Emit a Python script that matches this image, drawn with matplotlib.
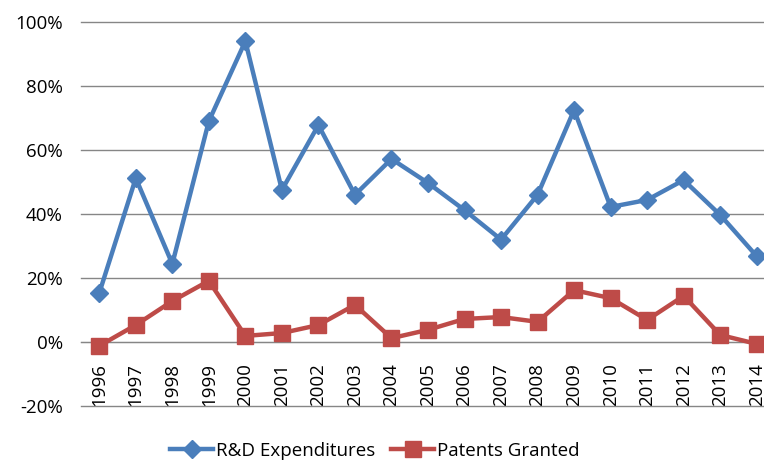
import matplotlib.pyplot as plt
from matplotlib.ticker import FuncFormatter

years = [str(y) for y in range(1996, 2015)]
rd_expenditures = [15.3, 51.2, 24.4, 69.0, 94.0, 47.5, 67.8, 46.0, 57.2, 49.7,
                   41.2, 32.0, 46.0, 72.5, 42.2, 44.4, 50.6, 39.7, 26.8]
patents_granted = [-1.2, 5.3, 12.8, 19.1, 1.9, 2.8, 5.3, 11.6, 1.2, 3.8,
                   7.2, 7.8, 6.3, 16.2, 13.7, 6.9, 14.4, 2.2, -0.6]

plt.rcParams["font.family"] = ["Open Sans", "DejaVu Sans"]
fs = 13.5

fig = plt.figure(figsize=(7.64, 4.61), dpi=100)
# plot area runs slightly past the right edge, as in the reference
ax = fig.add_axes([81 / 764, 1 - 406 / 461, (775 - 81) / 764, (406 - 22) / 461])

x = list(range(len(years)))
ax.plot(x, rd_expenditures, color="#4a7ebb", linewidth=3.2, marker="D",
        markersize=9, label="R&D Expenditures", zorder=3)
ax.plot(x, patents_granted, color="#be4b48", linewidth=3.2, marker="s",
        markersize=11, label="Patents Granted", zorder=3)

# move the category axis to 0 before styling ticks (set_position resets them)
ax.spines["bottom"].set_position(("data", 0))
ax.spines["bottom"].set_color("#868686")
for s in ["left", "right", "top"]:
    ax.spines[s].set_visible(False)

ax.set_xlim(-0.5, len(years) - 0.5)
ax.set_ylim(-20, 100)
ax.set_yticks(range(-20, 101, 20))
ax.yaxis.set_major_formatter(FuncFormatter(lambda v, p: f"{v:.0f}%"))
for gl in ax.yaxis.get_gridlines():
    gl.set_clip_on(False)
ax.grid(axis="y", color="#868686", linewidth=1)
ax.set_axisbelow(True)

ax.set_xticks(x)
ax.set_xticklabels(years, rotation=90, fontsize=fs)
ax.tick_params(axis="x", length=0, pad=15)
ax.tick_params(axis="y", length=0, labelsize=fs, pad=13)

fig.legend(loc="center", bbox_to_anchor=(375 / 764, 1 - 451 / 461), ncol=2,
           frameon=False, fontsize=fs, handlelength=2.3, columnspacing=0.85,
           handletextpad=0.15, borderpad=0)

fig.savefig("out.png", dpi=100)
